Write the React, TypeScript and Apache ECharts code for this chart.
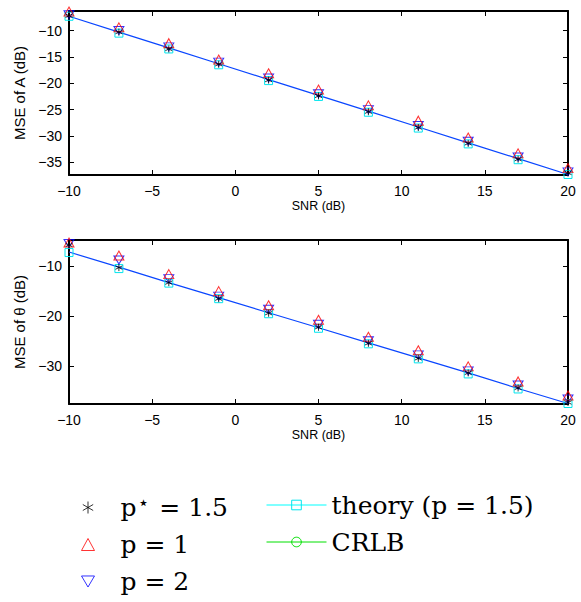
import React, { useEffect, useRef } from "react";
import * as echarts from "echarts";

// ---------- data ----------
const SNR = [-10, -7, -4, -1, 2, 5, 8, 11, 14, 17, 20];
const X_TICKS = [-10, -5, 0, 5, 10, 15, 20];

// top panel: MSE of A (dB)
const A_pStar = [-7.2, -10.3, -13.5, -16.4, -19.4, -22.4, -25.4, -28.4, -31.4, -34.4, -37.0];
const A_p1 = [-6.4, -9.4, -12.4, -15.5, -18.1, -21.2, -24.2, -27.1, -30.3, -33.3, -36.1];
const A_p2 = [-7.0, -10.0, -13.1, -16.0, -19.0, -22.0, -25.0, -28.0, -31.0, -34.0, -36.8];
const A_theory = [-7.3, -10.5, -13.5, -16.5, -19.5, -22.5, -25.5, -28.5, -31.5, -34.5, -37.3];
const A_crlb = [-7.3, -10.3, -13.3, -16.3, -19.3, -22.3, -25.3, -28.3, -31.3, -34.3, -37.3];
const A_Y_TICKS = [-35, -30, -25, -20, -15, -10];
const A_Y_RANGE = [-37.4, -6.3];

// bottom panel: MSE of theta (dB)
const T_pStar = [-5.8, -10.3, -13.3, -16.5, -19.4, -22.2, -25.4, -28.4, -31.3, -34.3, -37.2];
const T_p1 = [-5.3, -7.9, -11.6, -15.0, -17.8, -20.7, -24.1, -26.8, -30.0, -33.0, -35.8];
const T_p2 = [-5.5, -8.8, -12.5, -16.0, -18.6, -21.6, -24.9, -27.7, -30.9, -33.7, -36.5];
const T_theory = [-7.3, -10.5, -13.4, -16.5, -19.5, -22.4, -25.5, -28.5, -31.5, -34.5, -37.4];
const T_crlb = [-7.2, -10.2, -13.3, -16.3, -19.3, -22.3, -25.3, -28.3, -31.3, -34.4, -37.4];
const T_Y_TICKS = [-30, -20, -10];
const T_Y_RANGE = [-37.5, -4.8];

const NAMES = ["p⋆ = 1.5", "p = 1", "p = 2", "theory (p = 1.5)", "CRLB"];

// ---------- styles ----------
const ASTERISK = "path://M5,0 L5,10 M0.67,2.5 L9.33,7.5 M0.67,7.5 L9.33,2.5";
const DOWN_TRIANGLE = "path://M0,0 L10,0 L5,8.5 Z";
const BLUE_LINE = "#0a46ff";
const minus = (v: number) => String(v).replace("-", "\u2212");

function pair(a: number[]) {
  return SNR.map((x, i) => [x, a[i]]);
}

function buildSeries(idx: number, pStar: number[], p1: number[], p2: number[], theory: number[], crlb: number[]) {
  return [
    {
      name: NAMES[4],
      type: "line",
      xAxisIndex: idx * 2,
      yAxisIndex: idx * 2,
      data: pair(crlb),
      symbol: "circle",
      showSymbol: false,
      itemStyle: { color: "transparent", borderColor: "#00e000", borderWidth: 1 },
      lineStyle: { color: BLUE_LINE, width: 1.2 },
      z: 2,
    },
    {
      name: NAMES[3],
      type: "line",
      xAxisIndex: idx * 2,
      yAxisIndex: idx * 2,
      data: pair(theory),
      symbol: "rect",
      symbolSize: 8,
      itemStyle: { color: "transparent", borderColor: "#00e5ee", borderWidth: 1 },
      lineStyle: { color: "#00ffff", width: 1, opacity: 0 },
      z: 3,
    },
    {
      name: NAMES[2],
      type: "scatter",
      xAxisIndex: idx * 2,
      yAxisIndex: idx * 2,
      data: pair(p2),
      symbol: DOWN_TRIANGLE,
      symbolSize: [10, 8],
      itemStyle: { color: "transparent", borderColor: "#0000ff", borderWidth: 1 },
      z: 4,
    },
    {
      name: NAMES[1],
      type: "scatter",
      xAxisIndex: idx * 2,
      yAxisIndex: idx * 2,
      data: pair(p1),
      symbol: "triangle",
      symbolSize: [10, 9],
      itemStyle: { color: "transparent", borderColor: "#ff0000", borderWidth: 1 },
      z: 5,
    },
    {
      name: NAMES[0],
      type: "scatter",
      xAxisIndex: idx * 2,
      yAxisIndex: idx * 2,
      data: pair(pStar),
      symbol: ASTERISK,
      symbolSize: 7,
      itemStyle: { color: "transparent", borderColor: "#000000", borderWidth: 1 },
      z: 6,
    },
  ];
}

const axisLineStyle = { onZero: false, lineStyle: { color: "#000", width: 2 } };
const tickStyle = { inside: true, length: 5, lineStyle: { color: "#000", width: 1 } };
const tickFont = { color: "#000", fontFamily: "Liberation Sans, Arial, sans-serif", fontSize: 14 };

function xAxes(gridIndex: number) {
  return [
    {
      type: "value",
      gridIndex,
      min: -10,
      max: 20,
      interval: 5,
      position: "bottom",
      name: "SNR (dB)",
      nameLocation: "middle",
      nameGap: 24,
      nameTextStyle: { color: "#000", fontFamily: "Liberation Sans, Arial, sans-serif", fontSize: 12.5 },
      axisLine: axisLineStyle,
      axisTick: { ...tickStyle, customValues: X_TICKS },
      axisLabel: { ...tickFont, margin: 9, formatter: minus, customValues: X_TICKS },
      splitLine: { show: false },
    },
    {
      type: "value",
      gridIndex,
      min: -10,
      max: 20,
      interval: 5,
      position: "top",
      axisLine: axisLineStyle,
      axisTick: { ...tickStyle, customValues: X_TICKS },
      axisLabel: { show: false },
      splitLine: { show: false },
    },
  ];
}

function yAxes(gridIndex: number, name: string, range: number[], ticks: number[]) {
  return [
    {
      type: "value",
      gridIndex,
      min: range[0],
      max: range[1],
      position: "left",
      name,
      nameLocation: "middle",
      nameGap: 35,
      nameTextStyle: { color: "#000", fontFamily: "Liberation Sans, Arial, sans-serif", fontSize: 15 },
      axisLine: axisLineStyle,
      axisTick: { ...tickStyle, customValues: ticks },
      axisLabel: { ...tickFont, margin: 7, formatter: minus, customValues: ticks },
      splitLine: { show: false },
    },
    {
      type: "value",
      gridIndex,
      min: range[0],
      max: range[1],
      position: "right",
      axisLine: axisLineStyle,
      axisTick: { ...tickStyle, customValues: ticks },
      axisLabel: { show: false },
      splitLine: { show: false },
    },
  ];
}

const legendFont = {
  color: "#000",
  fontFamily: "DejaVu Serif, serif",
  fontSize: 25,
  lineHeight: 26,
  rich: {
    g: { width: 21 },
    s: { fontFamily: "DejaVu Sans, sans-serif", fontSize: 19, padding: [0, 2, 12, 1] },
  },
};

export default function App() {
  const ref = useRef<HTMLDivElement>(null);
  useEffect(() => {
    if (!ref.current) return;
    const chart = echarts.init(ref.current, null, { renderer: "svg" });
    chart.setOption({
      animation: false,
      backgroundColor: "#fff",
      grid: [
        { left: 69, top: 11, width: 499, height: 164 },
        { left: 69, top: 240, width: 499, height: 164 },
      ],
      xAxis: [...xAxes(0), ...xAxes(1)],
      yAxis: [
        ...yAxes(0, "MSE of A (dB)", A_Y_RANGE, A_Y_TICKS),
        ...yAxes(1, "MSE of θ (dB)", T_Y_RANGE, T_Y_TICKS),
      ],
      legend: [
        {
          orient: "vertical",
          left: 81,
          top: 492,
          padding: 0,
          itemGap: 11,
          itemWidth: 13,
          itemHeight: 12,
          selectedMode: false,
          itemStyle: { borderWidth: 1 },
          textStyle: legendFont,
          formatter: (n: string) => "{g|}" + (n === NAMES[0] ? "p{s|⋆} = 1.5" : n),
          data: [NAMES[0], NAMES[1], NAMES[2]],
        },
        {
          orient: "vertical",
          left: 266,
          top: 492,
          padding: 0,
          itemGap: 11,
          itemWidth: 60,
          itemHeight: 12,
          selectedMode: false,
          itemStyle: { borderWidth: 1 },
          textStyle: legendFont,
          data: [
            { name: NAMES[3], lineStyle: { color: "#00ffff", opacity: 1, width: 1 } },
            { name: NAMES[4], lineStyle: { color: "#00e000", opacity: 1, width: 1 } },
          ],
        },
      ],
      series: [
        ...buildSeries(0, A_pStar, A_p1, A_p2, A_theory, A_crlb),
        ...buildSeries(1, T_pStar, T_p1, T_p2, T_theory, T_crlb),
      ],
    });
    return () => chart.dispose();
  }, []);
  return (
    <div
      ref={ref}
      style={{ position: "fixed", left: 0, top: 0, width: 581, height: 602, background: "#fff" }}
    />
  );
}
